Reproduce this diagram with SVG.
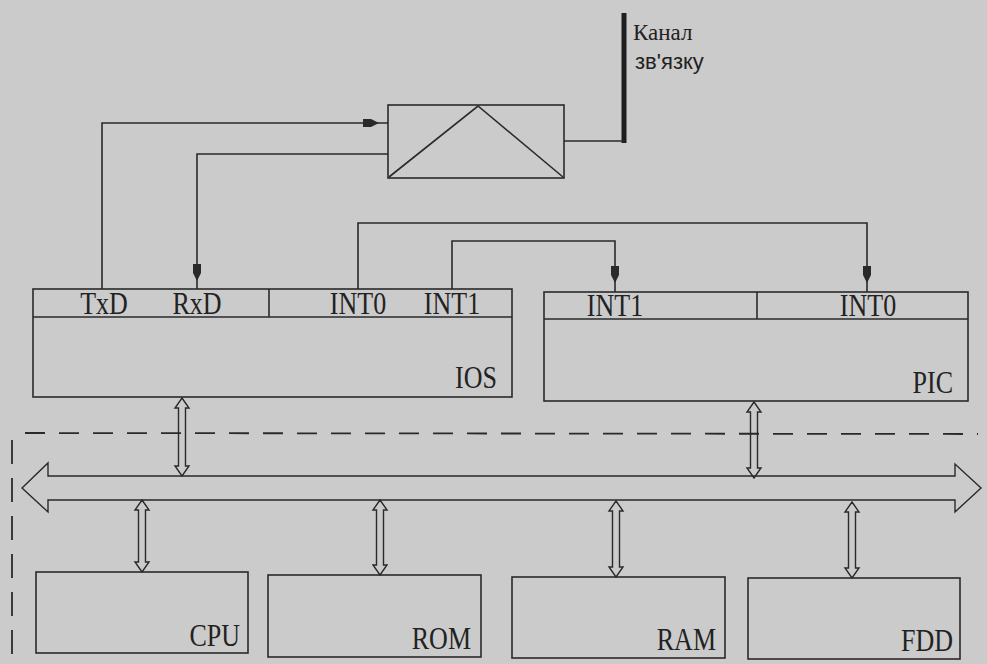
<svg xmlns="http://www.w3.org/2000/svg" width="987" height="664" viewBox="0 0 987 664">
<style>
.bg{fill:#cbcbcb}
.box{fill:none;stroke:#2a2a2a;stroke-width:1.6}
.ln{fill:none;stroke:#2a2a2a;stroke-width:1.6}
.ah{fill:#2a2a2a;stroke:none}
.dbl{fill:none;stroke:#2a2a2a;stroke-width:1.4;stroke-linejoin:miter}
.dash{fill:none;stroke:#2a2a2a;stroke-width:1.8;stroke-dasharray:20 14}
.t{font-family:"Liberation Serif","Times New Roman",serif;font-size:26px;fill:#222}
.c{font-family:"Liberation Serif","DejaVu Serif",serif;font-size:23px;fill:#222}
.s{font-family:"Liberation Sans","DejaVu Sans",sans-serif;font-size:22px;fill:#222}
</style>
<rect class="bg" x="0" y="0" width="987" height="664"/>

<g id="channel">
<line x1="624" y1="13" x2="624" y2="143" stroke="#1e1e1e" stroke-width="5"/>
<text class="c" x="633" y="40">Канал</text>
<text class="s" x="635" y="69">зв'язку</text>
</g>

<g id="modem">
<rect class="box" x="388" y="105" width="176" height="73"/>
<polyline class="ln" points="389,177 478,106 563,177"/>
</g>

<g id="ios">
<rect class="box" x="33" y="289" width="479" height="108"/>
<line class="ln" x1="33" y1="317" x2="512" y2="317"/>
<line class="ln" x1="269" y1="289" x2="269" y2="317"/>
<text class="t" text-anchor="middle" transform="translate(104,314) scale(1,1.2)">TxD</text>
<text class="t" text-anchor="middle" transform="translate(197,314) scale(1,1.2)">RxD</text>
<text class="t" text-anchor="middle" transform="translate(358,314) scale(1,1.2)">INT0</text>
<text class="t" text-anchor="middle" transform="translate(452,314) scale(1,1.2)">INT1</text>
<text class="t" text-anchor="end" transform="translate(497,388) scale(1,1.2)">IOS</text>
</g>

<g id="pic">
<rect class="box" x="544" y="292" width="424" height="109"/>
<line class="ln" x1="544" y1="319" x2="968" y2="319"/>
<line class="ln" x1="757" y1="292" x2="757" y2="319"/>
<text class="t" text-anchor="middle" transform="translate(615,316) scale(1,1.2)">INT1</text>
<text class="t" text-anchor="middle" transform="translate(868,316) scale(1,1.2)">INT0</text>
<text class="t" text-anchor="end" transform="translate(953,393) scale(1,1.2)">PIC</text>
</g>

<g id="cpu">
<rect class="box" x="36" y="572" width="212" height="81"/>
<text class="t" text-anchor="end" transform="translate(240,646) scale(1,1.2)">CPU</text>
</g>
<g id="rom">
<rect class="box" x="268" y="575" width="213" height="82"/>
<text class="t" text-anchor="end" transform="translate(471,649) scale(1,1.2)">ROM</text>
</g>
<g id="ram">
<rect class="box" x="512" y="577" width="213" height="81"/>
<text class="t" text-anchor="end" transform="translate(716,650) scale(1,1.2)">RAM</text>
</g>
<g id="fdd">
<rect class="box" x="748" y="578" width="212" height="81"/>
<text class="t" text-anchor="end" transform="translate(953,651) scale(1,1.2)">FDD</text>
</g>

<g id="boundary">
<line class="dash" x1="25" y1="433" x2="978" y2="434"/>
<line class="dash" x1="12" y1="440" x2="12" y2="664" style="stroke-dasharray:24 14"/>
</g>

<g id="bus">
<polygon class="dbl" points="22,488 48,463 48,476 955,476 955,464 981,488 955,512 955,500 48,500 48,512"/>
</g>

<g id="connectors">
<polyline class="ln" points="102,289 102,123 388,123"/>
<polygon class="ah" points="363,119 371,119 379,123 371,127 363,127"/>
<polyline class="ln" points="388,154 197,154 197,289"/>
<polygon class="ah" points="193,264 201,264 201,273 197,281 193,273"/>
<line class="ln" x1="564" y1="141" x2="624" y2="141"/>
<polyline class="ln" points="358,289 358,223 867,223 867,292"/>
<polygon class="ah" points="863,266 871,266 871,275 867,283 863,275"/>
<polyline class="ln" points="452,289 452,241 615,241 615,292"/>
<polygon class="ah" points="611,266 619,266 619,275 615,283 611,275"/>
<polygon class="dbl" points="182,398 189,408 185.5,408 185.5,466 189,466 182,476 175,466 178.5,466 178.5,408 175,408"/>
<polygon class="dbl" points="754,402 761,412 757.5,412 757.5,468 761,468 754,478 747,468 750.5,468 750.5,412 747,412"/>
<polygon class="dbl" points="142,500 149,510 145.5,510 145.5,562 149,562 142,572 135,562 138.5,562 138.5,510 135,510"/>
<polygon class="dbl" points="380,500 387,510 383.5,510 383.5,565 387,565 380,575 373,565 376.5,565 376.5,510 373,510"/>
<polygon class="dbl" points="616,501 623,511 619.5,511 619.5,567 623,567 616,577 609,567 612.5,567 612.5,511 609,511"/>
<polygon class="dbl" points="852,502 859,512 855.5,512 855.5,568 859,568 852,578 845,568 848.5,568 848.5,512 845,512"/>
</g>
</svg>
